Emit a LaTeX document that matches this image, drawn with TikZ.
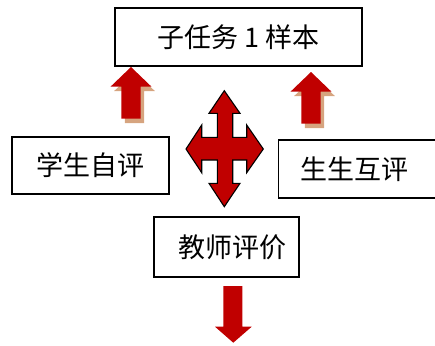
\documentclass[tikz,border=0pt]{standalone}
\usepackage{fontspec}
\newfontfamily\cjk{Noto Sans CJK SC}
\usetikzlibrary{positioning,calc}
\definecolor{arrowred}{HTML}{C00000}
\definecolor{arrowshadow}{HTML}{D6A47F}
\tikzset{
boxnode/.style={draw=black,line width=1.3pt,rectangle,inner sep=0pt,font=\cjk\fontsize{27}{27}\selectfont},
redfill/.style={fill=arrowred,draw=none},
shadowfill/.style={fill=arrowshadow,draw=none},
crossarrow/.style={fill=arrowred,draw=black,line width=1.1pt,line join=miter},
uparrow/.pic={
    \fill[shadowfill,shift={(3.5,4.5)}] (0,0) -- (20.3,19.5) -- (9.6,19.5) -- (9.6,51.5)
        -- (-9.6,51.5) -- (-9.6,19.5) -- (-20.3,19.5) -- cycle;
    \fill[redfill] (0,0) -- (20.3,19.5) -- (9.6,19.5) -- (9.6,51.5)
        -- (-9.6,51.5) -- (-9.6,19.5) -- (-20.3,19.5) -- cycle;
},
}
\tikzstyle{every node}=[font=\cjk]

\begin{document}
\begin{tikzpicture}[x=1pt,y=-1pt]
        \useasboundingbox (0,0) rectangle (435,345);
        \clip (0,0) rectangle (435,345);
        \node[boxnode,minimum width=247pt,minimum height=58pt] (sample) at (238.5,37)
            {子任务 1 样本};
        \node[boxnode,minimum width=157pt,minimum height=57pt] (selfeval) at (90.5,165.5)
            {\raisebox{-3pt}{学生自评}};
        \node[boxnode,anchor=west,minimum height=58pt,text width=148pt,align=left,inner xsep=22pt] (peereval) at (278,169)
            {生生互评};
        \node[boxnode,minimum width=145pt,minimum height=60pt] (teacher) at (226.5,247)
            {\hspace*{11pt}教师评价};

        \pic at (131,67) {uparrow};
        \pic at (311,72) {uparrow};

        \draw[crossarrow] (224.3,90.7) -- (240,113.3) -- (232.7,113.3) -- (232.7,137.3)
            -- (246.7,137.3) -- (246.7,125) -- (263.3,149) -- (246.7,172.7) -- (246.7,160)
            -- (232.7,160) -- (232.7,183.3) -- (240,183.3) -- (224.3,206.7) -- (209,183.3)
            -- (217.3,183.3) -- (217.3,160) -- (201.7,160) -- (201.7,172.7) -- (186,149)
            -- (201.7,125) -- (201.7,137.3) -- (217.3,137.3) -- (217.3,113.3) -- (209,113.3) -- cycle;

        \fill[redfill] (223.3,286) -- (242.3,286) -- (242.3,326.7) -- (251.7,326.7)
            -- (233.3,342.7) -- (215,326.7) -- (223.3,326.7) -- cycle;
    \end{tikzpicture}
\end{document}
